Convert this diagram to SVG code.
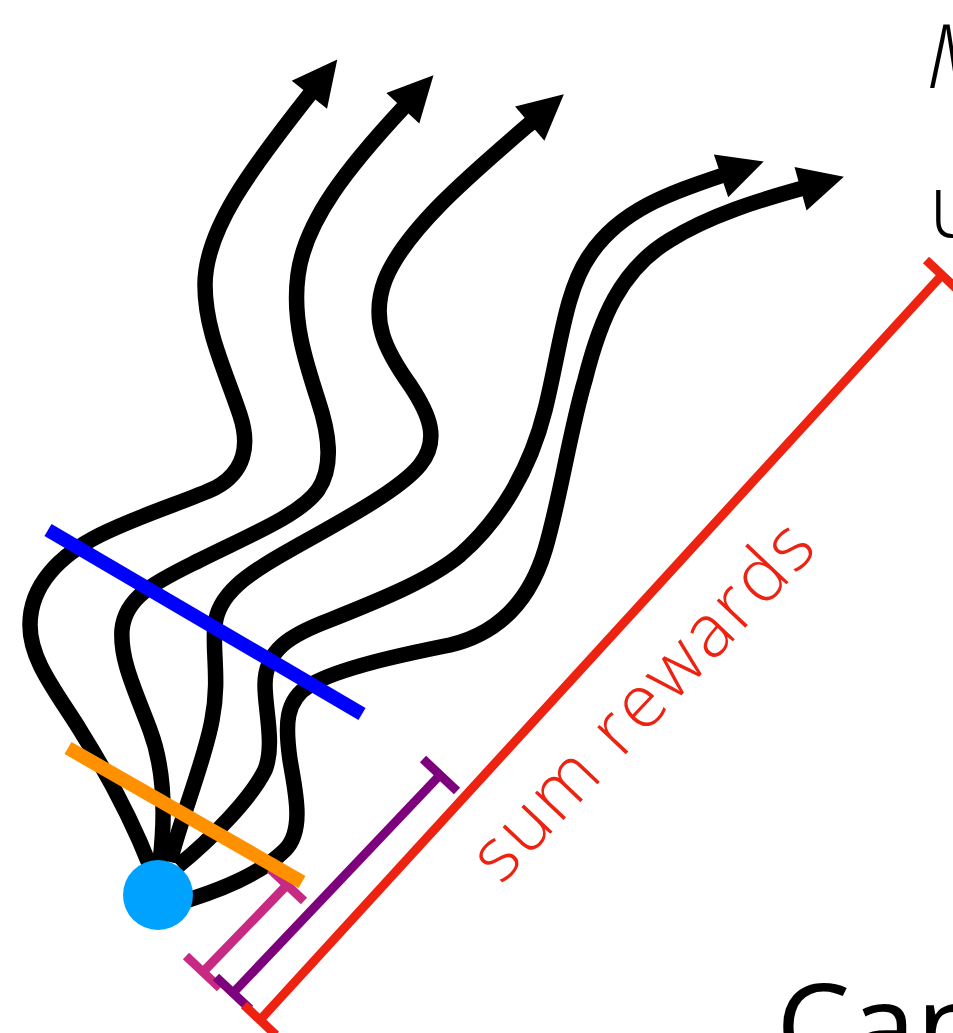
<svg xmlns="http://www.w3.org/2000/svg" width="953" height="1033" viewBox="0 0 953 1033">
  <style>
    .traj { fill: none; stroke: #000; stroke-width: 15.5; stroke-linecap: butt; marker-end: url(#head); }
    .bar { fill: none; stroke-linecap: butt; }
    .label { font-family: "Open Sans", "Liberation Sans", sans-serif; }
  </style>
  <defs>
    <marker id="head" markerUnits="userSpaceOnUse" markerWidth="48" markerHeight="48" viewBox="0 -24 46 48" refX="1" refY="0" orient="auto">
      <path d="M0,-22.5 L45,0 L0,22.5 Z" fill="#000"/>
    </marker>
  </defs>
  <rect width="953" height="1033" fill="#fff"/>

  <!-- sampled trajectories -->
  <g id="connectors">
    <path class="traj" d="M150,866 C130,815 105,770 80,730 C55,690 30,660 30,625 C30,585 60,555 100,535 C140,515 190,500 215,488 C245,472 250,445 240,415 C225,370 205,330 205,285 C205,230 250,170 310,94"/>
    <path class="traj" d="M160,862 C165,820 165,770 150,730 C135,690 120,660 122,630 C125,595 160,580 200,560 C250,535 300,515 318,490 C335,465 328,430 318,400 C305,360 292,320 298,275 C305,220 350,165 403.5,107.5"/>
    <path class="traj" d="M170,862 C180,820 205,760 212,720 C220,680 212,650 215,625 C218,595 245,575 290,550 C340,522 400,490 420,465 C440,440 430,415 410,385 C385,350 370,320 385,280 C405,230 470,175 530.5,123"/>
    <path class="traj" d="M178,866 C210,840 250,800 265,770 C275,745 265,710 265,685 C265,650 290,635 330,620 C380,600 430,580 460,555 C500,520 530,470 545,410 C560,350 565,290 590,255 C620,210 670,193 722,175.5"/>
    <path class="traj" d="M188,900 C220,890 260,875 285,850 C305,830 295,790 290,760 C285,725 285,700 310,685 C340,668 400,655 450,645 C500,633 530,600 545,550 C560,500 570,430 585,380 C600,320 620,270 670,240 C710,215 760,200 801.5,188.5"/>
  </g>

  <!-- start state -->
  <g id="start">
    <circle cx="158" cy="895" r="35" fill="#00a2ff"/>
  </g>

  <!-- cut across the trajectories -->
  <g id="cut-blue">
    <line class="bar" x1="48" y1="530" x2="362" y2="714" stroke="#0000ff" stroke-width="14"/>
  </g>

  <!-- horizon brackets -->
  <g id="bracket-magenta">
    <g stroke="#c62a82" stroke-width="9" class="bar">
      <line x1="203" y1="972" x2="287" y2="885"/>
      <line x1="270" y1="869" x2="304" y2="901"/>
      <line x1="186" y1="956" x2="220" y2="988"/>
    </g>
  </g>
  <g id="cut-orange">
    <line class="bar" x1="68" y1="748" x2="302" y2="882" stroke="#ff9100" stroke-width="14"/>
  </g>
  <g id="bracket-purple">
    <g stroke="#7d007d" stroke-width="9" class="bar">
      <line x1="233" y1="993" x2="440" y2="775"/>
      <line x1="423" y1="759" x2="457" y2="791"/>
      <line x1="216" y1="977" x2="250" y2="1009"/>
    </g>
  </g>
  <g id="bracket-red">
    <g stroke="#ee2211" stroke-width="9" class="bar">
      <line x1="260" y1="1020" x2="942" y2="275"/>
      <line x1="926" y1="260" x2="958" y2="290"/>
      <line x1="244" y1="1005" x2="276" y2="1035"/>
    </g>
    <text class="label" transform="translate(660,718) rotate(-46.6)" text-anchor="middle" font-size="74" font-weight="300" fill="#ee2211" textLength="462" lengthAdjust="spacing">sum rewards</text>
  </g>

  <!-- side captions -->
  <g id="captions" fill="#000">
    <text class="label" x="926" y="88" font-size="88" font-weight="300" font-style="italic">M</text>
    <text class="label" x="929" y="237" font-size="88" font-weight="300">u</text>
    <text class="label" x="776" y="1068" font-size="118" font-weight="400">Can</text>
  </g>
</svg>
